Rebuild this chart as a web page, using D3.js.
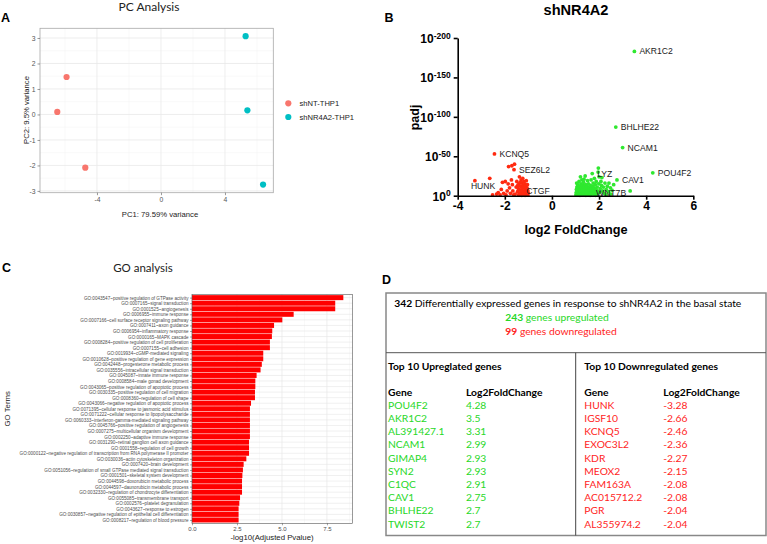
<!DOCTYPE html>
<html><head><meta charset="utf-8">
<script src="https://cdn.jsdelivr.net/npm/d3@7"></script>
<style>body{margin:0;background:#fff} svg{display:block}</style>
</head><body>
<svg id="c" width="767" height="544"></svg>
<script>
// ---------------- DATA ----------------
// Panel A: PCA
const pcaGroups = ["shNT-THP1", "shNR4A2-THP1"];
const pcaPC1 = [-5.9, -6.48, -4.73, 5.29, 5.4, 6.38];
const pcaPC2 = [1.47, 0.1, -2.09, 3.07, 0.16, -2.75];
const pcaGroupOf = [0, 0, 0, 1, 1, 1];
const pcaXTicks = [-4, 0, 4];
const pcaYTicks = [-3, -2, -1, 0, 1, 2, 3];

// Panel B: volcano (x = log2 fold change, y = -log10 padj)
const volcanoDown = [[-3.27,19],[-2.64,22],[-2.44,53],[-2.35,2],[-2.28,4],[-2.2,1],[-2.15,8],[-2.1,17],[-2.05,3],[-1.98,18],[-1.95,1],[-1.9,6],[-1.86,15],[-1.84,37],[-1.8,10],[-1.76,3],[-1.72,20],[-1.7,38],[-1.68,14],[-1.66,6],[-1.61,33],[-1.59,40],[-1.56,2],[-1.52,11],[-1.49,18],[-1.46,5],[-1.43,9],[-1.41,1],[-1.4,15],[-1.38,24],[-1.36,3],[-1.35,7],[-1.33,12],[-1.31,20],[-1.3,4],[-1.28,16],[-1.27,9],[-1.25,1],[-1.24,22],[-1.23,6],[-1.21,13],[-1.2,3],[-1.19,18],[-1.17,10],[-1.16,5],[-1.15,15],[-1.13,8],[-1.12,2],[-1.11,12],[-1.09,19],[-1.08,6],[-1.07,1],[-1.06,10],[-1.05,3],[-1.04,14],[-1.03,7],[-1.02,1],[-1.01,4],[-2.52,1],[-1.62,1],[-1.14,0.5],[-1.28,0.5],[-1.45,13],[-1.34,17],[-1.3,6]];
const volcanoUp = [[1.02,1],[1.03,4],[1.04,8],[1.05,2],[1.06,11],[1.08,5],[1.09,14],[1.1,1],[1.11,7],[1.12,3],[1.13,10],[1.15,6],[1.16,1],[1.17,12],[1.18,3],[1.2,8],[1.21,24],[1.22,5],[1.23,15],[1.25,2],[1.26,10],[1.28,6],[1.29,1],[1.3,13],[1.31,4],[1.33,9],[1.34,17],[1.35,2],[1.37,7],[1.38,11],[1.4,4],[1.41,25],[1.42,1],[1.43,14],[1.45,8],[1.46,3],[1.48,12],[1.5,6],[1.51,19],[1.52,2],[1.54,9],[1.55,15],[1.57,4],[1.58,11],[1.6,7],[1.61,1],[1.63,13],[1.64,3],[1.66,20],[1.67,9],[1.69,5],[1.71,28],[1.72,12],[1.74,2],[1.75,16],[1.77,7],[1.79,10],[1.8,22],[1.82,4],[1.84,14],[1.86,8],[1.88,18],[1.9,2],[1.92,11],[1.94,6],[1.96,30],[1.97,35],[1.99,15],[2.0,24],[2.02,4],[2.05,9],[2.08,18],[2.1,13],[2.12,23],[2.15,6],[2.18,11],[2.22,3],[2.25,16],[2.3,8],[2.35,12],[2.4,5],[2.42,16],[2.48,10],[2.55,7],[2.62,14],[2.3,1],[2.5,2],[1.15,18],[1.27,20],[1.36,21],[1.05,16],[1.19,0.5],[1.44,0.5],[1.62,0.5],[1.85,0.5],[1.66,3],[2.76,20],[3.32,6],[4.28,29],[3.0,61],[2.71,87],[3.5,183]];
const volcanoLabelGenes = ["AKR1C2","BHLHE22","NCAM1","POU4F2","CAV1","LYZ","WNT7B","KCNQ5","SEZ6L2","HUNK","CTGF"];
const volcanoLabelFC    = [3.5, 2.71, 3.0, 4.28, 2.76, 1.71, 1.66, -2.44, -1.61, -3.27, -1.3];
const volcanoLabelP     = [183, 87, 61, 29, 20, 28, 3, 53, 33, 19, 6];
const volcanoXTicks = [-4, -2, 0, 2, 4, 6];
const volcanoYTicks = [0, 50, 100, 150, 200];

// Panel C: GO analysis
const goTerms = [
 "GO:0043547~positive regulation of GTPase activity",
 "GO:0007165~signal transduction",
 "GO:0001525~angiogenesis",
 "GO:0006955~immune response",
 "GO:0007166~cell surface receptor signaling pathway",
 "GO:0007411~axon guidance",
 "GO:0006954~inflammatory response",
 "GO:0000165~MAPK cascade",
 "GO:0008284~positive regulation of cell proliferation",
 "GO:0007155~cell adhesion",
 "GO:0019934~cGMP-mediated signaling",
 "GO:0010628~positive regulation of gene expression",
 "GO:0042448~progesterone metabolic process",
 "GO:0035556~intracellular signal transduction",
 "GO:0045087~innate immune response",
 "GO:0008584~male gonad development",
 "GO:0043065~positive regulation of apoptotic process",
 "GO:0030335~positive regulation of cell migration",
 "GO:0008360~regulation of cell shape",
 "GO:0043066~negative regulation of apoptotic process",
 "GO:0071395~cellular response to jasmonic acid stimulus",
 "GO:0071222~cellular response to lipopolysaccharide",
 "GO:0060333~interferon-gamma-mediated signaling pathway",
 "GO:0045766~positive regulation of angiogenesis",
 "GO:0007275~multicellular organism development",
 "GO:0002250~adaptive immune response",
 "GO:0031290~retinal ganglion cell axon guidance",
 "GO:0001558~regulation of cell growth",
 "GO:0000122~negative regulation of transcription from RNA polymerase II promoter",
 "GO:0030036~actin cytoskeleton organization",
 "GO:0007420~brain development",
 "GO:0051056~regulation of small GTPase mediated signal transduction",
 "GO:0001501~skeletal system development",
 "GO:0044598~doxorubicin metabolic process",
 "GO:0044597~daunorubicin metabolic process",
 "GO:0032330~regulation of chondrocyte differentiation",
 "GO:0055085~transmembrane transport",
 "GO:0002576~platelet degranulation",
 "GO:0043627~response to estrogen",
 "GO:0030857~negative regulation of epithelial cell differentiation",
 "GO:0008217~regulation of blood pressure"
];
const goValues = [8.41,7.96,7.96,5.65,5.02,4.56,4.46,4.44,4.33,4.33,3.96,3.96,3.88,3.81,3.59,3.52,3.52,3.5,3.5,3.28,3.22,3.22,3.22,3.22,3.22,3.22,3.17,3.17,3.17,3.02,2.87,2.83,2.8,2.78,2.78,2.78,2.67,2.63,2.59,2.59,2.59];
const goXTicks = [0, 2.5, 5, 7.5];

// Panel D: summary table
const degTotal = 342, degUp = 243, degDown = 99;
const upGenes = ["POU4F2","AKR1C2","AL391427.1","NCAM1","GIMAP4","SYN2","C1QC","CAV1","BHLHE22","TWIST2"];
const upFC = ["4.28","3.5","3.31","2.99","2.93","2.93","2.91","2.75","2.7","2.7"];
const downGenes = ["HUNK","IGSF10","KCNQ5","EXOC3L2","KDR","MEOX2","FAM163A","AC015712.2","PGR","AL355974.2"];
const downFC = ["-3.28","-2.66","-2.46","-2.36","-2.27","-2.15","-2.08","-2.08","-2.04","-2.04"];

// ---------------- DRAW ----------------
const svg = d3.select("#c");
svg.append("rect").attr("width",767).attr("height",544).attr("fill","#fff");
const SANS = "'Liberation Sans', Arial, sans-serif";
const CAL = "Lato, 'Open Sans', sans-serif";
const panelLetter = (x,y,t) => svg.append("text").attr("x",x).attr("y",y).text(t)
  .attr("font-family",SANS).attr("font-weight","bold").attr("font-size",12.5).attr("fill","#000");

// ===== Panel A =====
(function(){
  const x = d3.scaleLinear().domain([-7.56,7.02]).range([40,273.3]);
  const y = d3.scaleLinear().domain([-3.07,3.38]).range([192.7,28.3]);
  const g = svg.append("g");
  const mid = t => t.slice(1).map((v,i)=>(v+t[i])/2);
  const xMinor = [pcaXTicks[0]-2, ...mid(pcaXTicks), pcaXTicks[pcaXTicks.length-1]+2];
  const yMinor = [...mid(pcaYTicks)];
  xMinor.forEach(v=>g.append("line").attr("x1",x(v)).attr("x2",x(v)).attr("y1",28.3).attr("y2",192.7).attr("stroke","#f3f3f3").attr("stroke-width",0.5));
  yMinor.forEach(v=>g.append("line").attr("y1",y(v)).attr("y2",y(v)).attr("x1",40).attr("x2",273.3).attr("stroke","#f3f3f3").attr("stroke-width",0.5));
  pcaXTicks.forEach(v=>g.append("line").attr("x1",x(v)).attr("x2",x(v)).attr("y1",28.3).attr("y2",192.7).attr("stroke","#e8e8e8").attr("stroke-width",0.8));
  pcaYTicks.forEach(v=>g.append("line").attr("y1",y(v)).attr("y2",y(v)).attr("x1",40).attr("x2",273.3).attr("stroke","#e8e8e8").attr("stroke-width",0.8));
  const colors = ["#F8766D","#00BFC4"];
  g.selectAll("circle.pca").data(pcaPC1).enter().append("circle")
    .attr("cx",(d)=>x(d)).attr("cy",(d,i)=>y(pcaPC2[i])).attr("r",3.1)
    .attr("fill",(d,i)=>colors[pcaGroupOf[i]]);
  g.append("rect").attr("x",40).attr("y",28.3).attr("width",233.3).attr("height",164.4)
    .attr("fill","none").attr("stroke","#a8a8a8").attr("stroke-width",0.8);
  const ax = g.append("g").attr("transform","translate(0,192.7)").call(d3.axisBottom(x).tickValues(pcaXTicks).tickSize(2.5).tickPadding(2));
  const ay = g.append("g").attr("transform","translate(40,0)").call(d3.axisLeft(y).tickValues(pcaYTicks).tickSize(2.5).tickPadding(2).tickFormat(d3.format("d")));
  [ax,ay].forEach(a=>{a.select(".domain").remove();
    a.selectAll("line").attr("stroke","#555").attr("stroke-width",0.6);
    a.selectAll("text").attr("font-family",SANS).attr("font-size",6.8).attr("fill","#555");});
  ax.selectAll("text").text(d=>d<0?"-"+Math.abs(d):d);
  ay.selectAll("text").text(d=>d<0?"-"+Math.abs(d):d);
  svg.append("text").attr("x",160).attr("y",217).attr("text-anchor","middle").text("PC1: 79.59% variance")
    .attr("font-family",SANS).attr("font-size",7.7).attr("fill","#222");
  svg.append("text").attr("transform","translate(29,110) rotate(-90)").attr("text-anchor","middle").text("PC2: 9.5% variance")
    .attr("font-family",SANS).attr("font-size",7.7).attr("fill","#222");
  svg.append("text").attr("x",149).attr("y",11).attr("text-anchor","middle").text("PC Analysis")
    .attr("font-family",CAL).attr("font-size",12).attr("fill","#222");
  pcaGroups.forEach((name,i)=>{
    svg.append("circle").attr("cx",288.3).attr("cy",103.3+i*13.7).attr("r",3.1).attr("fill",colors[i]);
    svg.append("text").attr("x",299.5).attr("y",106+i*13.7).text(name)
      .attr("font-family",SANS).attr("font-size",7.6).attr("fill","#222");
  });
  panelLetter(1,22.3,"A");
})();

// ===== Panel B =====
(function(){
  const x = d3.scaleLinear().domain([-4,6]).range([457.7,693.3]);
  const y = d3.scaleLinear().domain([0,200]).range([195.7,38]);
  const g = svg.append("g");
  g.selectAll("circle.dn").data(volcanoDown).enter().append("circle")
    .attr("cx",d=>x(d[0])).attr("cy",d=>y(d[1])).attr("r",1.9).attr("fill","#ff2a10");
  g.selectAll("circle.up").data(volcanoUp).enter().append("circle")
    .attr("cx",d=>x(d[0])).attr("cy",d=>y(d[1])).attr("r",1.9).attr("fill","#2fe82f");
  const offsets = {HUNK:[-4,8.5]};
  volcanoLabelGenes.forEach((gname,i)=>{
    const o = offsets[gname] || [5,3];
    g.append("text").attr("x",x(volcanoLabelFC[i])+o[0]).attr("y",y(volcanoLabelP[i])+o[1]).text(gname)
      .attr("font-family",SANS).attr("font-size",8.6).attr("fill","#1a1a1a");
  });
  const ax = g.append("g").attr("transform","translate(0,195.7)").call(d3.axisBottom(x).tickValues(volcanoXTicks).tickSize(4).tickSizeOuter(0).tickPadding(2));
  ax.selectAll("text").text(d=>d<0?"-"+Math.abs(d):d);
  const ay = g.append("g").attr("transform","translate(457.7,0)").call(d3.axisLeft(y).tickValues(volcanoYTicks).tickSize(4).tickSizeOuter(0).tickPadding(3));
  [ax,ay].forEach(a=>{
    a.select(".domain").attr("stroke","#000").attr("stroke-width",1.6);
    a.selectAll(".tick line").attr("stroke","#000").attr("stroke-width",1.6);
    a.selectAll("text").attr("font-family",SANS).attr("font-weight","bold").attr("font-size",12).attr("fill","#000");
  });
  ay.selectAll(".tick text").each(function(d){
    const t = d3.select(this); t.text(null).attr("dy","0.36em");
    t.append("tspan").text("10");
    t.append("tspan").attr("dy","-0.5em").attr("font-size",8.5).text(d===0?"0":"-"+d);
  });
  svg.append("text").attr("x",576).attr("y",15).attr("text-anchor","middle").text("shNR4A2")
    .attr("font-family",SANS).attr("font-weight","bold").attr("font-size",14.6);
  svg.append("text").attr("x",576).attr("y",234).attr("text-anchor","middle").text("log2 FoldChange")
    .attr("font-family",SANS).attr("font-weight","bold").attr("font-size",12.7);
  svg.append("text").attr("transform","translate(419,117.5) rotate(-90)").attr("text-anchor","middle").text("padj")
    .attr("font-family",SANS).attr("font-weight","bold").attr("font-size",12.5);
  panelLetter(384.5,22,"B");
})();

// ===== Panel C =====
(function(){
  const L=192, R=352.5, T=294.3, B=523.3;
  const x = d3.scaleLinear().domain([0,8.92]).range([L,R]);
  const y = d3.scalePoint().domain(goTerms).range([T,B]).padding(0.6);
  const step = y.step();
  const g = svg.append("g");
  const minor = goXTicks.map(v=>v+1.25);
  minor.forEach(v=>g.append("line").attr("x1",x(v)).attr("x2",x(v)).attr("y1",T).attr("y2",B).attr("stroke","#f2f2f2").attr("stroke-width",0.5));
  goXTicks.forEach(v=>g.append("line").attr("x1",x(v)).attr("x2",x(v)).attr("y1",T).attr("y2",B).attr("stroke","#e6e6e6").attr("stroke-width",0.7));
  goTerms.forEach(t=>g.append("line").attr("x1",L).attr("x2",R).attr("y1",y(t)).attr("y2",y(t)).attr("stroke","#e6e6e6").attr("stroke-width",0.6));
  g.selectAll("rect.bar").data(goTerms).enter().append("rect")
    .attr("x",x(0)).attr("y",d=>y(d)-step*0.45).attr("height",step*0.9)
    .attr("width",(d,i)=>x(goValues[i])-x(0)).attr("fill","#ff0000");
  g.append("rect").attr("x",L).attr("y",T).attr("width",R-L).attr("height",B-T)
    .attr("fill","none").attr("stroke","#555").attr("stroke-width",0.6);
  const ay = g.append("g").attr("transform",`translate(${L},0)`).call(d3.axisLeft(y).tickSize(2).tickPadding(1.5));
  const ax = g.append("g").attr("transform",`translate(0,${B})`).call(d3.axisBottom(x).tickValues(goXTicks).tickSize(2).tickPadding(1.5).tickFormat(d3.format(".1f")));
  [ax,ay].forEach(a=>{a.select(".domain").remove();
    a.selectAll("line").attr("stroke","#444").attr("stroke-width",0.5);
    a.selectAll("text").attr("font-family",SANS).attr("fill","#4d4d4d");});
  ay.selectAll("text").attr("font-size",4.6);
  ax.selectAll("text").attr("font-size",6);
  svg.append("text").attr("x",272).attr("y",540).attr("text-anchor","middle").text("-log10(Adjusted Pvalue)")
    .attr("font-family",SANS).attr("font-size",7.8).attr("fill","#222");
  svg.append("text").attr("transform",`translate(9.5,${(T+B)/2}) rotate(-90)`).attr("text-anchor","middle").text("GO Terms")
    .attr("font-family",SANS).attr("font-size",7.8).attr("fill","#222");
  svg.append("text").attr("x",143).attr("y",272).attr("text-anchor","middle").text("GO analysis")
    .attr("font-family",CAL).attr("font-size",11.5).attr("fill","#222");
  panelLetter(2,272,"C");
})();

// ===== Panel D =====
(function(){
  const L=386, R=766, T=293, B=535.5, HM=352.7, VM=575.7;
  const GREEN="#27d827", RED="#ff2424";
  const g = svg.append("g");
  g.append("rect").attr("x",L).attr("y",T).attr("width",R-L).attr("height",B-T).attr("fill","none").attr("stroke","#888").attr("stroke-width",1.5);
  g.append("line").attr("x1",L).attr("x2",R).attr("y1",HM).attr("y2",HM).attr("stroke","#555").attr("stroke-width",1);
  g.append("line").attr("x1",VM).attr("x2",VM).attr("y1",HM).attr("y2",B).attr("stroke","#444").attr("stroke-width",1);
  const fs = 10.3;
  const txt = (x,y,anchor) => g.append("text").attr("x",x).attr("y",y).attr("text-anchor",anchor||"start")
    .attr("font-family",CAL).attr("font-size",fs);
  const h = txt(394.3,307);
  h.append("tspan").attr("font-weight","bold").text(degTotal);
  h.append("tspan").text(" Differentially expressed genes in response to shNR4A2 in the basal state");
  const u = txt(557,320.5,"middle").attr("fill",GREEN);
  u.append("tspan").attr("font-weight","bold").text(degUp); u.append("tspan").text(" genes upregulated");
  const d = txt(561,334.5,"middle").attr("fill",RED);
  d.append("tspan").attr("font-weight","bold").text(degDown); d.append("tspan").text(" genes downregulated");
  txt(388,369.5).attr("font-weight","bold").text("Top 10 Upreglated genes");
  txt(584.3,369.5).attr("font-weight","bold").text("Top 10 Downregulated genes");
  txt(388,395.5).attr("font-weight","bold").text("Gene");
  txt(466,395.5).attr("font-weight","bold").text("Log2FoldChange");
  txt(584.3,395.5).attr("font-weight","bold").text("Gene");
  txt(663.3,395.5).attr("font-weight","bold").text("Log2FoldChange");
  const rowY = i => 408.8 + i*13.2;
  upGenes.forEach((gn,i)=>{ txt(388,rowY(i)).attr("fill",GREEN).text(gn); txt(466,rowY(i)).attr("fill",GREEN).text(upFC[i]); });
  downGenes.forEach((gn,i)=>{ txt(584.3,rowY(i)).attr("fill",RED).text(gn); txt(663.3,rowY(i)).attr("fill",RED).text(downFC[i]); });
  panelLetter(382,284,"D");
})();
</script>
</body></html>
